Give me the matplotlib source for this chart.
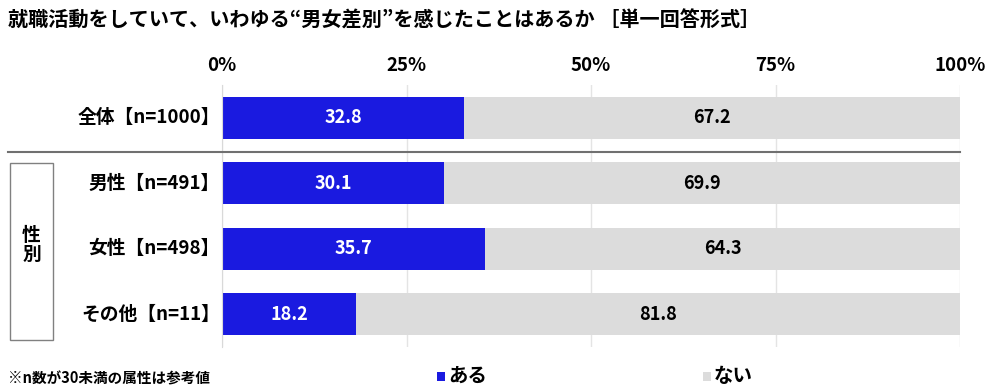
import matplotlib.pyplot as plt
from matplotlib.patches import Rectangle
from matplotlib.lines import Line2D

plt.rcParams['font.family'] = ['Noto Sans CJK JP', 'DejaVu Sans']

# データ
categories = ['全体【n=1000】', '男性【n=491】', '女性【n=498】', 'その他【n=11】']
aru = [32.8, 30.1, 35.7, 18.2]
nai = [67.2, 69.9, 64.3, 81.8]
series_names = ['ある', 'ない']
ticks = [0, 25, 50, 75, 100]
tick_labels = ['0%', '25%', '50%', '75%', '100%']

blue = '#1a1ae0'
grey = '#dcdcdc'

fig = plt.figure(figsize=(10, 3.92), dpi=100)
ax = fig.add_axes([0.222, 0.1153, 0.738, 0.668])

ypos = list(range(len(categories)))
ax.barh(ypos, aru, height=0.64, color=blue, zorder=2)
ax.barh(ypos, nai, left=aru, height=0.64, color=grey, zorder=2)

for y, a, n in zip(ypos, aru, nai):
    ax.text(a / 2, y, f'{a:.1f}', ha='center', va='center', color='white',
            fontsize=13, fontweight='bold', zorder=3)
    ax.text(a + n / 2, y, f'{n:.1f}', ha='center', va='center', color='black',
            fontsize=13, fontweight='bold', zorder=3)

ax.set_xlim(0, 100)
ax.set_ylim(len(categories) - 0.5, -0.5)
ax.set_xticks(ticks)
ax.set_xticklabels(tick_labels, fontsize=13.5, fontweight='bold')
ax.xaxis.tick_top()
ax.tick_params(axis='x', length=0, pad=7)
ax.set_yticks([])
ax.grid(axis='x', color='#e4e4e4', linewidth=1, zorder=0)
for s in ['top', 'right', 'bottom']:
    ax.spines[s].set_visible(False)
ax.spines['left'].set_color('#d9d9d9')

# 行ラベル
for y, c in zip(ypos, categories):
    ax.text(-0.3, y, c, ha='right', va='center', fontsize=13.5, fontweight='bold')

# 区切り線
fig.add_artist(Line2D([0.008, 0.96], [1 - 152 / 392, 1 - 152 / 392],
                      color='#707070', linewidth=1.5))

# 性別ボックス
fig.add_artist(Rectangle((0.010, 1 - 340 / 392), 0.043, 177 / 392,
                         facecolor='none', edgecolor='#808080', linewidth=1))
fig.text(0.0315, 1 - 245 / 392, '性\n別', ha='center', va='center',
         fontsize=13.5, fontweight='bold', linespacing=1.0)

# タイトル
fig.text(0.008, 1 - 20 / 392, '就職活動をしていて、いわゆる“男女差別”を感じたことはあるか ［単一回答形式］',
         ha='left', va='center', fontsize=14.5, fontweight='bold')

# 注記
fig.text(0.008, 1 - 378 / 392, '※n数が30未満の属性は参考値', ha='left', va='center',
         fontsize=10.5, fontweight='bold')

# 凡例
leg_x = [0.437, 0.703]
for x, name, col in zip(leg_x, series_names, [blue, grey]):
    fig.add_artist(Rectangle((x, 1 - 381 / 392), 0.008, 9 / 392,
                             facecolor=col, edgecolor='none'))
    fig.text(x + 0.011, 1 - 376 / 392, name, ha='left', va='center',
             fontsize=14, fontweight='bold')

fig.savefig('out.png', dpi=100)
